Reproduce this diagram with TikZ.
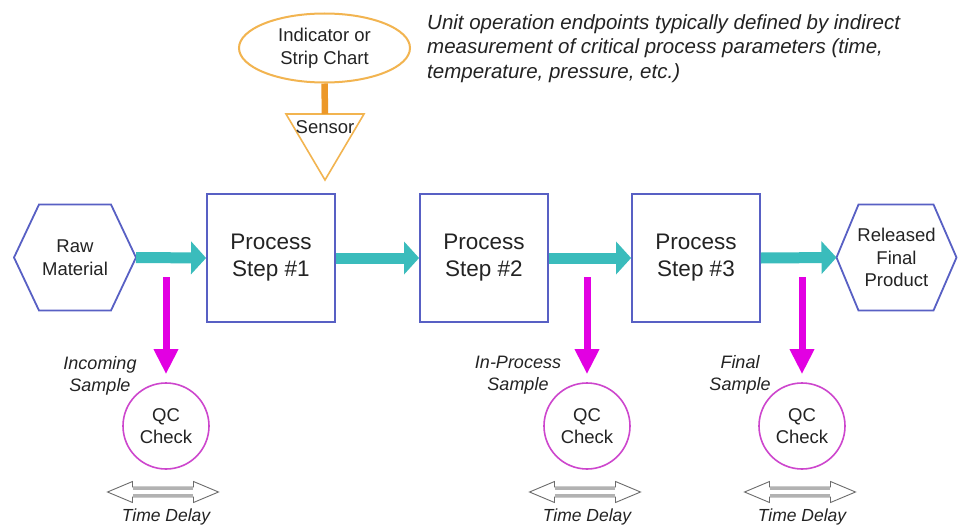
\documentclass[tikz,border=0pt]{standalone}
\usepackage{fontspec}
\setmainfont{Liberation Sans}
\usetikzlibrary{arrows.meta,shapes.geometric,calc}
\definecolor{boxblue}{RGB}{88,96,196}
\definecolor{tealc}{RGB}{58,188,188}
\definecolor{mag}{RGB}{226,0,226}
\definecolor{qcmag}{RGB}{205,70,205}
\definecolor{orng}{RGB}{242,180,80}
\definecolor{orngd}{RGB}{236,152,40}
\definecolor{txt}{RGB}{35,35,35}
\begin{document}
\begin{tikzpicture}[x=1pt,y=-1pt,
  procbox/.style={draw=boxblue, line width=1.8pt, minimum width=128pt, minimum height=128pt,
    inner sep=0pt, align=center, font=\fontsize{22.5}{27}\selectfont, text=txt},
  hexnode/.style={minimum width=#1, minimum height=106pt, inner sep=0pt, outer sep=0pt,
    align=center, font=\fontsize{18.5}{22.5}\selectfont, text=txt},
  hexline/.style={draw=boxblue, line width=1.8pt, line join=miter},
  flow/.style={draw=tealc, line width=11pt, -{Triangle[length=15pt,width=32pt]}},
  sampling/.style={draw=mag, line width=7pt, -{Triangle[length=25pt,width=23pt]}, shorten >=8pt},
  qc/.style={circle, draw=qcmag, line width=1.6pt, minimum size=86pt, inner sep=0pt,
    align=center, font=\fontsize{18.5}{22}\selectfont, text=txt},
  lab/.style={font=\itshape\fontsize{18}{22.5}\selectfont, align=center, text=txt},
  tdlab/.style={font=\itshape\fontsize{17.5}{21}\selectfont, text=txt},
  tdelay/.pic={
    \filldraw[fill=white, draw=gray!85!black, line width=0.9pt, line join=miter]
      (-55.5,0) -- (-30.5,-10.5) -- (-30.5,-5) -- (30.5,-5) -- (30.5,-10.5) -- (55.5,0)
      -- (30.5,10.5) -- (30.5,5) -- (-30.5,5) -- (-30.5,10.5) -- cycle;
    \draw[gray!60, line width=2.4pt] (-30,-3.6) -- (30,-3.6) (-30,3.6) -- (30,3.6);
  }
]
\useasboundingbox[fill=white] (0,0) rectangle (958,527);

% main flow
\node[hexnode=122pt] (raw) at (75,257.5) {Raw\\Material};
\draw[hexline] (raw.west) -- ($(raw.north west)+(25,0)$) -- ($(raw.north east)+(-25,0)$)
  -- (raw.east) -- ($(raw.south east)+(-25,0)$) -- ($(raw.south west)+(25,0)$) -- cycle;
\node[procbox] (p1) at (271,258) {Process\\Step \#1};
\node[procbox] (p2) at (484,258) {Process\\Step \#2};
\node[procbox] (p3) at (696,258) {Process\\Step \#3};
\node[hexnode=120pt] (rel) at (896.5,257.5) {Released\\Final\\Product};
\draw[hexline] (rel.west) -- ($(rel.north west)+(22,0)$) -- ($(rel.north east)+(-23,0)$)
  -- (rel.east) -- ($(rel.south east)+(-23,0)$) -- ($(rel.south west)+(22,0)$) -- cycle;

\draw[flow] (raw.east) -- (p1.west);
\draw[flow] (p1.east) -- (p2.west);
\draw[flow] (p2.east) -- (p3.west);
\draw[flow] (p3.east) -- (rel.west);

% indicator and sensor
\node[ellipse, draw=orng, line width=2pt, minimum width=171pt, minimum height=69pt,
  inner sep=0pt, align=center, font=\fontsize{18.5}{23}\selectfont, text=txt]
  (ind) at (324.5,48) {Indicator or\\Strip Chart};
\coordinate (sensortop) at (325,114);
\coordinate (sensorL) at (286,114);
\coordinate (sensorR) at (364,114);
\coordinate (sensorB) at (325,180);
\draw[orng, line width=1.6pt, line join=miter] (sensorL) -- (sensorR) -- (sensorB) -- cycle;
\draw[orngd, line width=6.5pt] (ind.south) -- (sensortop);
\node[font=\fontsize{18.5}{22}\selectfont, text=txt, inner sep=0pt] (sensor) at (325,127) {Sensor};

% note
\node[anchor=north west, align=left, inner sep=0pt, text=txt,
  font=\itshape\fontsize{20.5}{24.5}\selectfont] (note) at (427,14)
  {Unit operation endpoints typically defined by indirect\\
   measurement of critical process parameters (time,\\
   temperature, pressure, etc.)};

% sampling
\coordinate (s1) at (166,277);
\coordinate (s2) at (587,277);
\coordinate (s3) at (802,277);
\node[qc] (q1) at (166,426) {QC\\Check};
\node[qc] (q2) at (587,426) {QC\\Check};
\node[qc] (q3) at (802,426) {QC\\Check};
\draw[sampling] (s1) -- (q1.north);
\draw[sampling] (s2) -- (q2.north);
\draw[sampling] (s3) -- (q3.north);
\node[lab] (l1) at (100,376) {Incoming\\Sample};
\node[lab] (l2) at (518,375) {In-Process\\Sample};
\node[lab] (l3) at (740,375) {Final\\Sample};

% time delays
\pic at (163,492) {tdelay};
\pic at (585,492) {tdelay};
\pic at (800,492) {tdelay};
\node[tdlab] (t1) at (166,517) {Time Delay};
\node[tdlab] (t2) at (587,517) {Time Delay};
\node[tdlab] (t3) at (802,517) {Time Delay};
\end{tikzpicture}
\end{document}
